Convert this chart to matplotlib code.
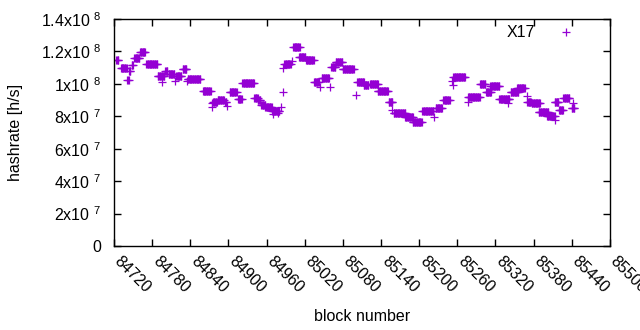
import numpy as np
import matplotlib
matplotlib.use("Agg")
import matplotlib.pyplot as plt
from matplotlib.transforms import ScaledTranslation

plt.rcParams["font.family"] = ["Liberation Sans", "DejaVu Sans"]
plt.rcParams["mathtext.fontset"] = "custom"
plt.rcParams["mathtext.rm"] = "Liberation Sans"
plt.rcParams["mathtext.it"] = "Liberation Sans"
plt.rcParams["mathtext.bf"] = "Liberation Sans"

# runs of blocks sharing (about) the same hashrate estimate, values in 1e6 h/s
run_start = [84724, 84731, 84741, 84744, 84748, 84752, 84761, 84771, 84789, 84801,
             84806, 84818, 84828, 84836, 84860, 84876, 84883, 84895, 84902, 84915,
             84922, 84941, 84946, 84952, 84958, 84969, 84988, 85002, 85011, 85022,
             85035, 85047, 85062, 85069, 85080, 85103, 85113, 85123, 85135, 85152,
             85160, 85178, 85190, 85205, 85226, 85238, 85254, 85277, 85296, 85305,
             85312, 85326, 85344, 85354, 85370, 85377, 85388, 85401, 85413, 85420,
             85427, 85440]
run_end = [84727, 84740, 84743, 84746, 84750, 84760, 84769, 84788, 84799, 84804,
           84815, 84826, 84834, 84856, 84872, 84882, 84893, 84897, 84913, 84921,
           84940, 84946, 84950, 84958, 84968, 84980, 84998, 85012, 85021, 85034,
           85042, 85058, 85068, 85079, 85097, 85113, 85120, 85135, 85151, 85158,
           85178, 85190, 85204, 85222, 85236, 85248, 85272, 85295, 85304, 85313,
           85326, 85342, 85356, 85366, 85376, 85390, 85403, 85413, 85419, 85426,
           85436, 85444]
run_value = [114.5, 109.6, 102.4, 108.0, 111.6, 115.7, 119.4, 112.0, 104.7, 108.0,
             105.9, 104.7, 109.0, 102.8, 95.8, 89.0, 90.0, 89.0, 94.8, 90.6,
             100.3, 91.0, 89.8, 87.0, 85.5, 83.0, 112.2, 122.5, 116.4, 114.5,
             101.0, 103.4, 110.6, 113.7, 109.0, 101.4, 99.3, 99.7, 95.8, 89.0,
             82.2, 79.4, 76.7, 83.5, 85.3, 90.0, 104.4, 92.1, 99.7, 94.8,
             98.5, 90.5, 95.2, 97.2, 89.0, 88.0, 82.4, 80.2, 89.0, 83.9,
             91.0, 85.0]

# isolated blocks
single_block = [84795, 84816, 84835, 84874, 84875, 84898, 84970, 84978, 84982, 84986,
                84986, 85000, 85044, 85060, 85100, 85158, 85223, 85251, 85253, 85277,
                85340, 85369, 85413, 85442]
single_value = [101.0, 102.0, 102.0, 88.0, 86.0, 86.3, 81.2, 82.0, 86.0, 94.8,
                109.6, 114.0, 98.3, 98.3, 93.0, 84.0, 79.8, 102.0, 99.0, 89.0,
                88.0, 92.5, 77.7, 88.0]

blocks = np.concatenate([np.arange(s, e + 1) for s, e in zip(run_start, run_end)] + [np.array(single_block)])
rates = np.concatenate([np.full(e - s + 1, v) for s, e, v in zip(run_start, run_end, run_value)] + [np.array(single_value)]) * 1e6

xticks = list(range(84720, 85501, 60))
yticks = [0, 2e7, 4e7, 6e7, 8e7, 1e8, 1.2e8, 1.4e8]
ylabels = ["0", "2x10 $^{7}$", "4x10 $^{7}$", "6x10 $^{7}$", "8x10 $^{7}$",
           "1x10 $^{8}$", "1.2x10 $^{8}$", "1.4x10 $^{8}$"]

fig = plt.figure(figsize=(6.4, 3.3), dpi=100)
ax = fig.add_axes([0.178, 0.2545, 0.775, 0.688])

ax.plot(blocks, rates, linestyle="none", marker="+", markersize=6, markeredgewidth=0.9,
        color="#9400D3", label="X17")

ax.set_xlim(84720, 85500)
ax.set_ylim(0, 1.4e8)
ax.set_xticks(xticks)
ax.set_xticklabels([str(t) for t in xticks], rotation=-45, ha="left", va="center",
                   rotation_mode="anchor")
ax.set_yticks(yticks)
ax.set_yticklabels(ylabels)

ax.tick_params(direction="in", length=5, width=1, top=True, right=True,
               labelsize=11.5, colors="black")
ax.tick_params(axis="x", pad=9)
ax.tick_params(axis="y", pad=9)
shift = ScaledTranslation(3 / 100, 0, fig.dpi_scale_trans)
for lab in ax.get_xticklabels():
    lab.set_transform(lab.get_transform() + shift)
for sp in ax.spines.values():
    sp.set_linewidth(1)

ax.set_xlabel("block number", fontsize=11.5)
ax.set_ylabel("hashrate [h/s]", fontsize=11.5)
ax.xaxis.set_label_coords(0.5, -0.278)
ax.yaxis.set_label_coords(-0.184, 0.5)

ax.legend(loc="upper right", bbox_to_anchor=(0.948, 1.0), frameon=False, markerfirst=False,
          fontsize=11.5, handlelength=1.5, handletextpad=1.2, borderaxespad=0.0)

fig.savefig("out.png", dpi=100)
